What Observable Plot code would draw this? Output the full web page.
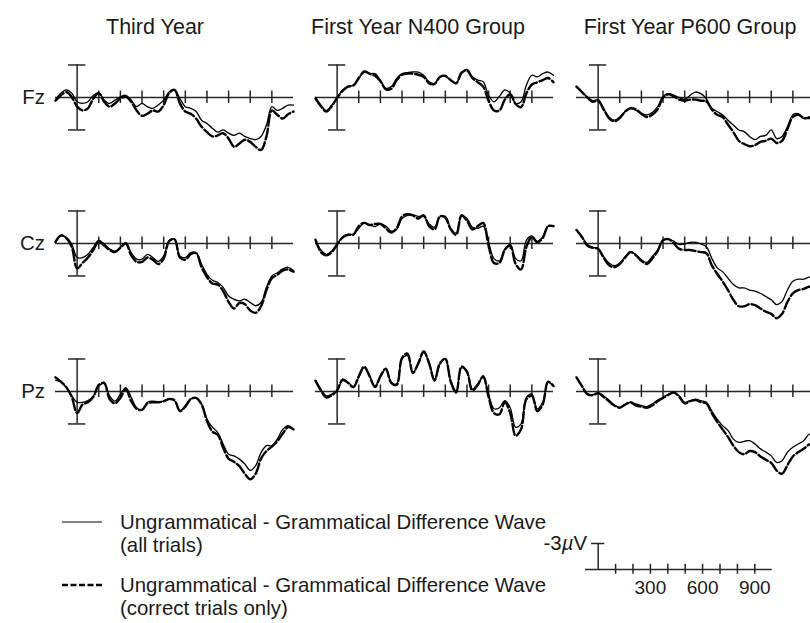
<!DOCTYPE html>
<html>
<head>
<meta charset="utf-8">
<script src="https://cdn.jsdelivr.net/npm/d3@7"></script>
<script src="https://cdn.jsdelivr.net/npm/@observablehq/plot@0.6"></script>
<style>
  html, body { margin: 0; padding: 0; background: #fff; overflow: hidden; }
  #root { position: relative; width: 810px; height: 623px; overflow: hidden; background: #fff;
          font-family: "Liberation Sans", Arial, Helvetica, sans-serif; color: #1a1a1a; }
  .abs { position: absolute; white-space: nowrap; line-height: 20px; font-size: 20.4px; }
  .title { font-size: 21.5px; }
  .panel { position: absolute; }
</style>
</head>
<body>
<div id="root"></div>
<script>
// ---- data (µV, negative plotted up), sampled every 25 ms ----
const times = [-100,-75,-50,-25,0,25,50,75,100,125,150,175,200,225,250,275,300,325,350,375,400,425,450,475,500,525,550,575,600,625,650,675,700,725,750,775,800,825,850,875,900,925,950,975,1000];

const groups = ["Third Year", "First Year N400 Group", "First Year P600 Group"];
const channels = ["Fz", "Cz", "Pz"];
const tickMs = [100,200,300,400,500,600,700,800,900];
const scaleTickLabels = ["300","600","900"];
const scaleTickValues = [300,600,900];
const legendLabels = ["Ungrammatical - Grammatical Difference Wave", "(all trials)", "(correct trials only)"];

const thirdFzAll = [0.2,-0.4,-0.7,-0.4,0.4,0.55,0.4,-0.2,-0.45,0.25,0.55,0.25,-0.05,-0.2,0.25,0.85,0.55,0.85,1.0,0.7,0.25,-0.5,-0.7,0.1,0.85,1.0,1.3,2.1,2.4,2.85,3.2,3.0,3.3,3.5,3.3,3.6,3.8,3.9,3.6,2.55,0.85,1.2,1.0,0.7,0.7];
const thirdFzCor = [0.3,-0.2,-0.5,-0.05,0.85,1.2,1.0,0.1,-0.4,0.4,0.85,0.55,0.1,-0.05,0.4,1.2,1.7,1.5,1.2,1.3,0.7,-0.4,-0.7,0.55,1.3,1.5,1.95,2.7,3.2,3.6,3.5,3.3,3.8,4.55,4.25,3.9,4.1,4.55,4.85,3.6,1.2,1.6,1.95,1.55,1.3];
const n400FzAll = [0.0,0.7,1.2,0.7,0,-0.7,-1.0,-1.15,-1.75,-2.35,-2.2,-2.2,-1.6,-0.85,-1.0,-1.75,-2.2,-2.3,-2.35,-2.35,-2.05,-1.45,-1.3,-1.9,-1.95,-1.6,-1.35,-2.2,-2.6,-1.9,-1.6,-1.45,-0.2,0.4,-0.1,-0.7,-0.4,0.55,0.4,-1.15,-2.05,-1.9,-2.2,-2.35,-2.05];
const n400FzCor = [0.1,0.8,1.3,0.8,0.05,-0.6,-1.0,-1.1,-1.8,-2.4,-2.2,-2.0,-1.5,-0.75,-0.8,-1.6,-2.1,-2.2,-2.2,-2.1,-1.9,-1.3,-1.25,-1.9,-2.0,-1.6,-1.3,-2.3,-2.5,-1.8,-1.4,-1.0,0.3,1.2,1.2,0.2,-0.3,0.6,0.9,-0.4,-1.2,-1.4,-1.6,-1.8,-1.4];
const p600FzAll = [-1.0,-0.5,-0.05,0.3,0.2,1.0,1.8,2.1,1.8,1.3,1.0,1.2,1.5,1.6,1.4,0.85,-0.1,-0.35,-0.2,0,0.2,-0.2,-0.5,-0.35,0.1,1.0,1.3,1.6,2.1,2.55,3.0,3.15,3.6,3.9,3.6,3.5,3.0,3.8,3.6,2.7,1.6,1.5,1.95,1.8,1.8];
const p600FzCor = [-1.0,-0.5,0.0,0.4,0.3,1.1,1.9,2.2,1.9,1.3,1.0,1.1,1.5,1.8,1.6,1.1,0.0,-0.3,-0.1,0.2,0.3,0.2,0.2,0.3,0.35,1.1,1.6,1.8,2.5,3.2,4.0,4.3,4.5,4.4,4.1,4.0,3.8,4.2,4.0,2.9,1.8,1.6,1.9,1.9,1.9];

const thirdCzAll = [-0.1,-0.7,-0.55,0.05,1.3,1.3,1.0,0.35,-0.3,0.05,0.5,0.7,0.35,-0.1,0.85,1.45,1.45,1.0,1.3,1.65,1.15,-0.25,-0.4,1.15,1.3,0.85,0.85,1.9,2.85,3.4,3.6,4.05,4.85,5.15,5.3,5.15,5.45,5.75,5.45,4.05,3.0,2.7,2.35,2.2,2.5];
const thirdCzCor = [-0.15,-0.75,-0.5,0.3,2.3,1.8,1.3,0.6,-0.2,0.2,0.6,0.8,0.4,0.0,1.1,1.7,1.7,1.3,1.5,1.9,1.4,-0.2,-0.4,1.3,1.5,1.0,0.9,2.2,3.1,3.7,3.8,4.4,5.4,6.0,5.5,5.6,6.2,6.4,5.8,4.3,3.2,2.9,2.5,2.4,2.6];
const n400CzAll = [-0.25,0.6,1.0,0.7,0.05,-0.6,-0.85,-0.85,-1.4,-1.9,-1.75,-1.55,-1.8,-1.6,-1.15,-1.3,-2.3,-2.6,-2.65,-2.5,-2.5,-1.8,-1.5,-2.45,-2.5,-1.4,-0.95,-2.55,-2.3,-1.5,-1.4,-1.6,-0.1,1.4,1.6,0.5,0.1,1.4,1.6,-0.3,-0.7,-0.2,-0.6,-1.6,-1.6];
const n400CzCor = [-0.35,0.8,1.1,0.8,0.1,-0.55,-0.8,-0.8,-1.6,-1.9,-1.7,-1.8,-1.8,-1.4,-1.0,-1.4,-2.5,-2.7,-2.6,-2.3,-2.6,-1.6,-1.3,-2.5,-2.4,-1.3,-0.8,-2.6,-2.1,-1.3,-1.6,-1.9,0.2,1.8,1.8,0.6,0.2,1.9,2.4,0.3,-0.6,-0.1,-0.5,-1.6,-1.6];
const p600CzAll = [-1.25,-0.65,0.1,0.35,0.45,1.2,1.8,2.05,1.8,1.2,0.75,1.05,1.5,1.75,1.2,0.6,-0.3,-0.4,-0.2,0.1,0.05,-0.1,-0.1,0.05,0.3,1.35,2.25,2.6,3.2,3.8,4.1,4.1,4.3,4.4,4.6,4.9,5.2,5.65,5.35,4.3,3.5,3.3,3.3,3.1,3.1];
const p600CzCor = [-1.25,-0.6,0.2,0.4,0.5,1.3,2.0,2.2,1.9,1.3,0.8,1.1,1.6,1.9,1.4,0.7,-0.3,-0.4,0.0,0.5,0.6,0.6,0.7,0.8,0.9,2.0,2.8,3.5,4.3,5.2,5.8,5.8,5.6,5.7,6.0,6.3,6.5,6.9,6.5,5.4,4.6,4.3,4.2,4.0,4.0];

const thirdPzAll = [-1.05,-0.85,-0.35,0.4,1.0,1.0,0.85,0.4,-0.5,-0.75,0.4,0.9,0.25,-0.35,0.55,1.5,1.7,1.0,0.9,0.95,0.9,0.7,0.85,1.8,1.3,0.7,0.65,1.15,2.55,3.3,3.8,4.85,5.8,5.95,6.25,6.7,7.3,6.85,5.65,5.0,5.0,4.4,3.5,3.15,3.5];
const thirdPzCor = [-1.3,-0.9,-0.4,0.5,2.0,1.2,1.0,0.5,-0.6,-0.8,0.7,1.1,0.6,-0.2,0.9,1.6,1.7,1.1,1.0,1.0,0.9,0.7,0.8,1.8,1.4,0.7,0.6,1.2,2.7,3.7,4.0,5.2,6.2,6.5,6.9,7.6,8.1,7.6,6.2,5.5,5.1,4.6,3.9,3.3,3.5];
const n400PzAll = [-1.0,-0.2,0.4,0.25,-0.1,-1.0,-0.85,-0.45,-1.3,-2.2,-1.45,-0.5,-1.45,-2.05,-0.85,-0.7,-3.0,-3.3,-1.75,-2.5,-3.6,-2.7,-1.15,-2.5,-3.0,-1.0,-0.05,-2.2,-1.9,-0.2,-0.7,-1.3,0.25,1.6,1.5,0.85,1.5,3.3,3.0,0.55,0.25,1.6,1.0,-0.85,-0.5];
const n400PzCor = [-1.0,-0.1,0.55,0.35,-0.1,-1.1,-0.8,-0.4,-1.4,-2.3,-1.4,-0.4,-1.4,-2.1,-0.8,-0.6,-3.1,-3.5,-1.7,-2.6,-3.7,-2.6,-1.0,-2.6,-3.0,-0.9,0.1,-2.3,-1.8,-0.1,-0.6,-1.4,0.5,2.0,2.1,1.0,2.0,4.1,3.5,0.7,0.4,1.8,1.2,-0.9,-0.5];
const p600PzAll = [-1.3,-0.5,0.2,0.3,0.1,0.4,0.8,1.25,1.5,1.25,1.0,1.15,1.3,1.4,1.15,0.8,0.55,0.25,0.1,0.4,1.0,0.85,0.7,0.85,1.0,1.8,2.55,3.15,3.6,4.4,4.7,4.6,4.55,4.85,5.3,5.6,5.95,6.55,6.4,5.6,5.15,4.85,4.55,3.95,3.9];
const p600PzCor = [-1.3,-0.5,0.25,0.35,0.15,0.5,0.9,1.3,1.5,1.2,1.0,1.3,1.4,1.5,1.3,0.9,0.6,0.3,0.1,0.5,1.1,0.9,0.8,1.0,1.1,2.0,2.8,3.5,4.2,5.0,5.6,5.8,5.5,5.6,6.0,6.3,6.6,7.3,7.6,6.8,6.0,5.6,5.3,4.9,4.8];

// panel lookup: [group][channel] -> [all trials, correct trials only]
const series = {
  "Third Year":            {Fz: [thirdFzAll, thirdFzCor], Cz: [thirdCzAll, thirdCzCor], Pz: [thirdPzAll, thirdPzCor]},
  "First Year N400 Group": {Fz: [n400FzAll, n400FzCor],   Cz: [n400CzAll, n400CzCor],   Pz: [n400PzAll, n400PzCor]},
  "First Year P600 Group": {Fz: [p600FzAll, p600FzCor],   Cz: [p600CzAll, p600CzCor],   Pz: [p600PzAll, p600PzCor]}
};

// ---- layout ----
const root = document.getElementById("root");
const colLeft = [45, 305, 566];
const rowTop = [32, 178, 326];
const titleCenter = [155, 418, 690];
const AX = "#262626";

function toRows(arr) { return times.map((t, i) => ({t, v: arr[i]})); }

function addDiv(html, css, cls) {
  const d = document.createElement("div");
  d.className = "abs" + (cls ? " " + cls : "");
  d.innerHTML = html;
  Object.assign(d.style, css);
  root.appendChild(d);
  return d;
}

groups.forEach((g, ci) => {
  addDiv(g, {left: titleCenter[ci] + "px", top: "17px", transform: "translateX(-50%)"}, "title");
});
channels.forEach((c, ri) => {
  addDiv(c, {left: "0px", width: "45px", textAlign: "right", top: (rowTop[ri] + 65 - 10) + "px"});
});

groups.forEach((g, ci) => {
  channels.forEach((c, ri) => {
    const [all, cor] = series[g][c];
    const chart = Plot.plot({
      width: 260, height: 170,
      marginLeft: 10, marginRight: 12, marginTop: 0, marginBottom: 0,
      x: {domain: [-100, 1000], range: [10, 248], axis: null},
      y: {domain: [-6, 9.7], range: [0, 170], axis: null},
      style: {background: "transparent", overflow: "visible"},
      marks: [
        Plot.ruleY([0], {x1: -100, x2: 1000, stroke: AX, strokeWidth: 1.5}),
        Plot.ruleX(tickMs, {x: d => d, y1: -0.6, y2: 0.55, stroke: AX, strokeWidth: 1.5}),
        Plot.ruleX([0], {y1: -3, y2: 3, stroke: AX, strokeWidth: 1.5}),
        Plot.ruleY([-3, 3], {x1: -40, x2: 40, stroke: AX, strokeWidth: 1.5}),
        Plot.line(toRows(all), {x: "t", y: "v", curve: "catmull-rom", stroke: "#000", strokeWidth: 1.3}),
        Plot.line(toRows(cor), {x: "t", y: "v", curve: "catmull-rom", stroke: "#000", strokeWidth: 2.4, strokeDasharray: "11,3"})
      ]
    });
    chart.classList.add("panel");
    chart.style.left = colLeft[ci] + "px";
    chart.style.top = rowTop[ri] + "px";
    root.appendChild(chart);
  });
});

// ---- legend ----
const lg = document.createElementNS("http://www.w3.org/2000/svg", "svg");
lg.setAttribute("width", "110"); lg.setAttribute("height", "110");
lg.style.position = "absolute"; lg.style.left = "0px"; lg.style.top = "500px";
lg.innerHTML = `<line x1="62" x2="102" y1="22" y2="22" stroke="#000" stroke-width="1.2"/>
<line x1="62" x2="102" y1="85" y2="85" stroke="#000" stroke-width="2.4" stroke-dasharray="6,2.5"/>`;
root.appendChild(lg);
addDiv(legendLabels[0], {left: "120px", top: "512px"});
addDiv(legendLabels[1], {left: "120px", top: "535px"});
addDiv(legendLabels[0], {left: "120px", top: "575px"});
addDiv(legendLabels[2], {left: "120px", top: "598px"});

// ---- scale bar ----
const sb = Plot.plot({
  width: 230, height: 70, marginLeft: 0, marginRight: 0, marginTop: 0, marginBottom: 0,
  x: {domain: [0, 1000], range: [37.7, 211.7], axis: null},
  y: {domain: [-3, 0], range: [13, 39], axis: null},
  style: {background: "transparent", overflow: "visible"},
  marks: [
    Plot.ruleY([0], {x1: -73, x2: 1000, stroke: AX, strokeWidth: 1.5}),
    Plot.ruleX(tickMs, {x: d => d, y1: -0.6, y2: 0.55, stroke: AX, strokeWidth: 1.5}),
    Plot.ruleX([0], {y1: -3, y2: 0, stroke: AX, strokeWidth: 1.5}),
    Plot.ruleY([-3], {x1: -38, x2: 38, stroke: AX, strokeWidth: 1.5}),
    Plot.text(scaleTickLabels, {x: (d, i) => scaleTickValues[i], y: 2.07, text: d => d, fontSize: 19,
      fill: "#1a1a1a", fontFamily: "Liberation Sans, Arial, sans-serif", lineAnchor: "middle"})
  ]
});
sb.classList.add("panel");
sb.style.left = "560px"; sb.style.top = "530px";
root.appendChild(sb);
addDiv("-3<i>µ</i>V", {left: "480px", width: "107px", textAlign: "right", top: "533px"});
</script>
</body>
</html>
